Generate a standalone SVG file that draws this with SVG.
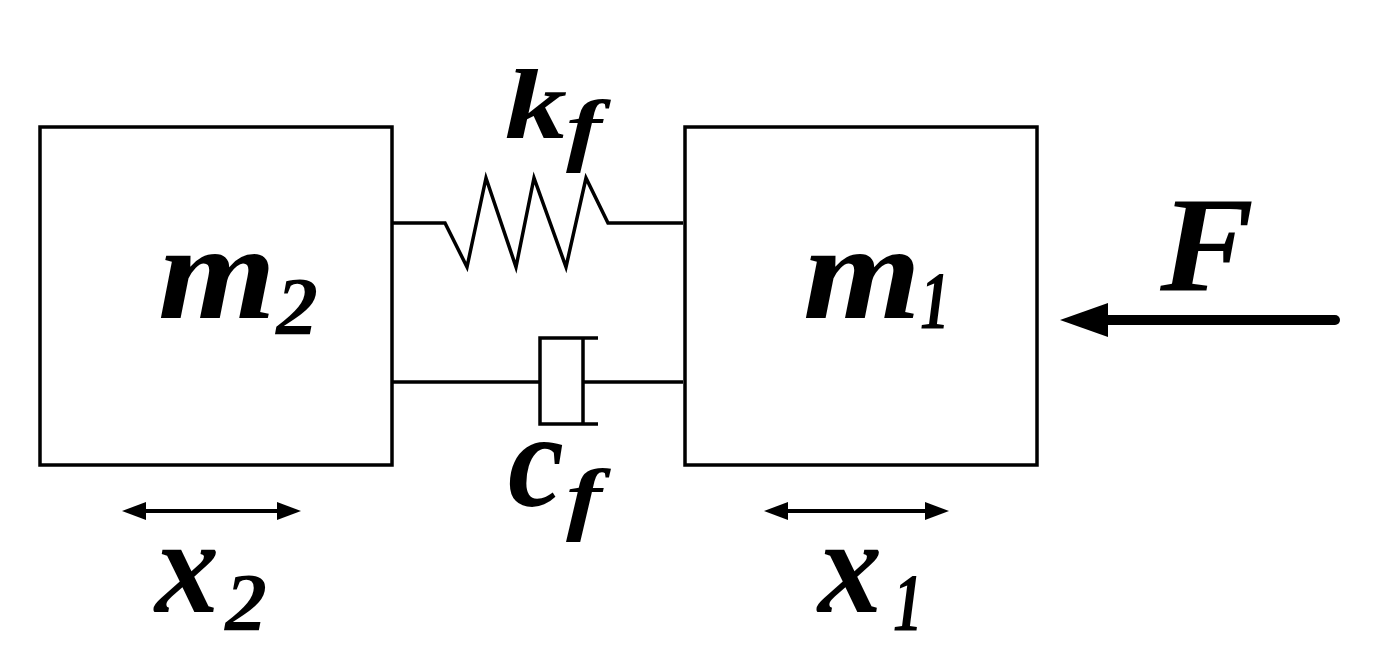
<svg xmlns="http://www.w3.org/2000/svg" width="1375" height="657" viewBox="0 0 1375 657">
<style>
.b{fill:none;stroke:#000;stroke-width:3.5}
.t{font-family:"Liberation Serif",serif;font-weight:bold;font-style:italic;fill:#000}
.big{font-size:135px}
.sub{font-size:82px}
</style>
<rect width="1375" height="657" fill="#fff"/>
<g id="m2"><rect class="b" x="40" y="127" width="352" height="338"/>
<text class="t big" x="158" y="318" textLength="118" lengthAdjust="spacingAndGlyphs">m</text><text class="t sub" x="276" y="334" textLength="42" lengthAdjust="spacingAndGlyphs">2</text></g>
<g id="m1"><rect class="b" x="685" y="127" width="352" height="338"/>
<text class="t big" x="803" y="318" textLength="118" lengthAdjust="spacingAndGlyphs">m</text><text class="t sub" x="920" y="328" textLength="30" lengthAdjust="spacingAndGlyphs">1</text></g>
<g id="connectors">
<polyline class="b" points="393,223 445,223 467,267 486,178 516,267 534,178 566,267 586,178 608,223 683,223"/>
<text class="t" font-size="100" x="505" y="138" textLength="62" lengthAdjust="spacingAndGlyphs">k</text><text class="t" font-size="80" x="566" y="156" textLength="36" lengthAdjust="spacingAndGlyphs">f</text>
<path class="b" d="M393,382 H540 M598,338 H540 V424 H598 M583,338 V424 M583,382 H683"/>
<text class="t big" x="508" y="506" textLength="56" lengthAdjust="spacingAndGlyphs">c</text><text class="t" font-size="80" x="566" y="525" textLength="36" lengthAdjust="spacingAndGlyphs">f</text>
<line x1="1335" y1="320" x2="1100" y2="320" stroke="#000" stroke-width="10" stroke-linecap="round"/>
<polygon points="1060,320 1108,303 1108,337"/>
<text class="t big" x="1160" y="290" textLength="94" lengthAdjust="spacingAndGlyphs">F</text>
<line x1="140" y1="511" x2="284" y2="511" stroke="#000" stroke-width="4"/>
<polygon points="122,511 146,502 146,520"/><polygon points="301,511 277,502 277,520"/>
<line x1="782" y1="511" x2="932" y2="511" stroke="#000" stroke-width="4"/>
<polygon points="764,511 788,502 788,520"/><polygon points="949,511 925,502 925,520"/>
<text class="t big" x="155" y="612" textLength="64" lengthAdjust="spacingAndGlyphs">x</text><text class="t sub" x="225" y="630" textLength="42" lengthAdjust="spacingAndGlyphs">2</text>
<text class="t big" x="818" y="612" textLength="64" lengthAdjust="spacingAndGlyphs">x</text><text class="t sub" x="893" y="630" textLength="30" lengthAdjust="spacingAndGlyphs">1</text>
</g>
</svg>
